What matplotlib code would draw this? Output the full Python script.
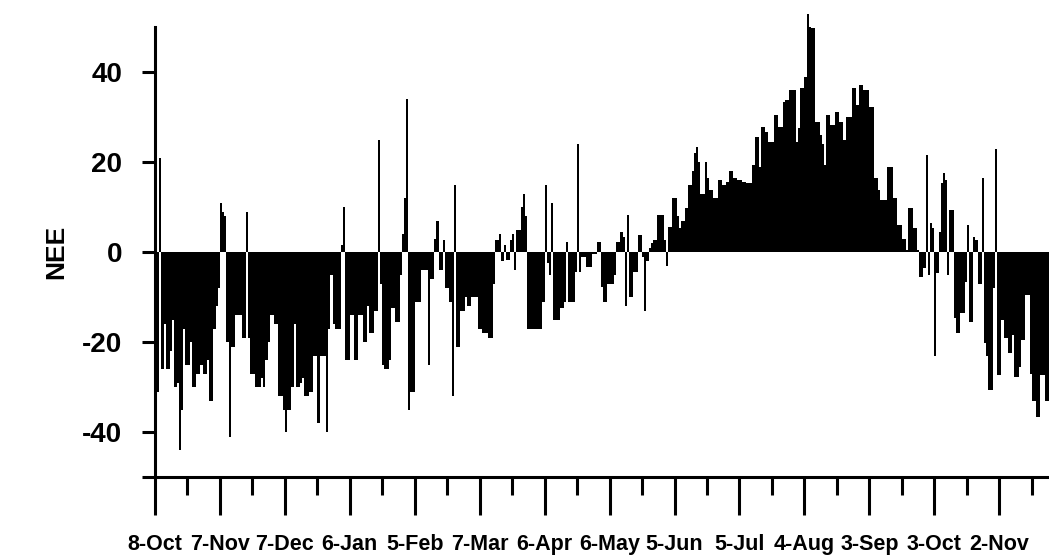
import numpy as np
import matplotlib
matplotlib.use('Agg')
import matplotlib.pyplot as plt
from matplotlib.ticker import MultipleLocator

plt.rcParams['font.family'] = ['Liberation Sans', 'DejaVu Sans']
plt.rcParams['font.weight'] = 'bold'

# daily NEE, first day = 8-Oct
nee = [
    -31, -31, 21, -26, -16, -26, -26, -22, -15, -30,
    -29, -44, -35, -17, -25, -25, -20, -30, -30, -27,
    -27, -25, -27, -27, -24, -33, -33, -17, -12, -8,
    11, 9, 8, -20, -41, -21, -21, -14, -14, -14,
    -19, -19, 9, -19, -27, -27, -30, -30, -30, -28,
    -30, -24, -20, -14, -14, -16, -16, -32, -32, -35,
    -40, -35, -35, -30, -16, -30, -30, -29, -28, -32,
    -32, -31, -31, -23, -23, -38, -23, -23, -23, -40,
    -17, -5, -16, -17, -17, -17, 1.5, 10, -24, -24,
    -14, -14, -24, -24, -14, -14, -20, -20, -12, -18,
    -18, -13, -13, 25, -7, -25, -26, -26, -24, -12.5,
    -12.5, -15.5, -15.5, -5, 4, 12, 34, -35, -31, -31,
    -11, -11, -11, -4, -4, -4, -25, -6, -6, 3,
    7, -4, -4, 2.7, -8, -8, -11, -32, 15, -21,
    -21, -13, -13, -10, -12, -12, -10, -10, -10, -17,
    -17, -18, -18, -18, -19, -19, -7, 2.7, 2.7, 4,
    -2, 1.5, -1.8, -1.8, 2.7, 4, -4, 5, 5, 10,
    13, 8, -17, -17, -17, -17, -17, -17, -17, -11,
    15, -2.5, -5, 11, -15, -15, -15, -12.5, -12.5, -11,
    2.3, -11, -11, -11, -4.4, 24, -4.4, -1, -1, -3.3,
    -3.3, -3.3, -0.5, -0.5, 2.3, 2.3, -7.7, -11, -11, -7,
    -7, -7, -5, 2.3, 2.3, 4.5, 3.4, -12, 8.2, -10,
    -10, -4.4, -4.4, 3.8, 3.8, -1, -13, -2, 1, 2,
    2.7, 2.7, 8.2, 8.2, 8.2, 2.7, -3, 5.6, 5.6, 12,
    12, 8, 5.3, 7, 7, 9.7, 15, 15, 18, 22,
    23.4, 20, 13, 13, 20, 16.4, 13.8, 13.8, 12, 12,
    16, 16, 15, 15, 15.5, 17.9, 17.9, 16.4, 16.4, 16,
    16, 15.6, 15.6, 15.3, 15.3, 15.3, 19.3, 25.6, 25.6, 19,
    27.8, 27.8, 26.7, 24.5, 24.5, 24.5, 30.4, 30.4, 27.8, 27.8,
    33.4, 33.8, 33.8, 36, 36, 36, 24.5, 27.5, 36.4, 36.4,
    39, 53, 50, 49.7, 49.7, 29, 29, 26, 24, 19.3,
    30.4, 30.4, 28.2, 28.2, 31.2, 31.2, 29, 29, 24.9, 30,
    30, 30, 36.4, 36.4, 32.7, 37.1, 37.1, 36, 36, 36,
    32.3, 32.3, 16.4, 16.4, 13.8, 11.6, 11.6, 11.6, 19, 19,
    19, 12, 12, 6, 6, 3, 3, 0.5, 9.7, 9.7,
    5.3, 5.3, 0.5, -5.5, -5.5, -3.6, 21.5, -5, 6.4, 5.3,
    -23, -4.7, 4.5, 15.3, 17.5, 16, -5, 9.3, 9.3, -14.7,
    -18, -18, -13.6, -13.6, -6.6, 6, -15.5, -15.5, 3.4, 2.7,
    -7, -7, 16.4, -20.3, -23, -30.7, -30.7, -8, 23, -27.3,
    -27.3, -15, -19, -19, -22.5, -22.5, -18.4, -27.7, -27.7, -25.5,
    -19.6, -19.6, -9.6, -9.6, -27, -33, -33, -36.6, -36.6, -27.3,
    -27.3, -33, -33,
]
date_labels = ['8-Oct', '7-Nov', '7-Dec', '6-Jan', '5-Feb', '7-Mar', '6-Apr',
               '6-May', '5-Jun', '5-Jul', '4-Aug', '3-Sep', '3-Oct', '2-Nov']
ytick_vals = [-50, -40, -20, 0, 20, 40]
ytick_labels = ['', '-40', '-20', '0', '20', '40']

days = np.arange(len(nee))

fig = plt.figure(figsize=(10.49, 5.58), dpi=100)
ax = fig.add_axes([155/1049, 81/558, 894/1049, 450/558])

# peak goes above the top of the axis in the original, so no clipping
ax.bar(days, nee, width=1.0, align='edge', color='black', linewidth=0,
       clip_on=False)

ax.set_xlim(0, len(nee))
ax.set_ylim(-50, 50)

ax.set_xticks(np.arange(len(date_labels)) * 30)
ax.set_xticklabels(date_labels, fontsize=15.5, fontweight='bold')
ax.xaxis.set_minor_locator(MultipleLocator(15))
ax.set_yticks(ytick_vals)
ax.set_yticklabels(ytick_labels, fontsize=20, fontweight='bold')

ax.tick_params(axis='x', which='major', length=27, width=2.2, pad=14)
ax.tick_params(axis='x', which='minor', length=13, width=2.2)
ax.tick_params(axis='y', which='major', length=9.5, width=2.2, pad=14)

for s in ['top', 'right']:
    ax.spines[s].set_visible(False)
for s in ['left', 'bottom']:
    ax.spines[s].set_linewidth(2.2)

ax.set_ylabel('NEE', fontsize=19, fontweight='bold', labelpad=10)

fig.savefig('out.png', dpi=100)
